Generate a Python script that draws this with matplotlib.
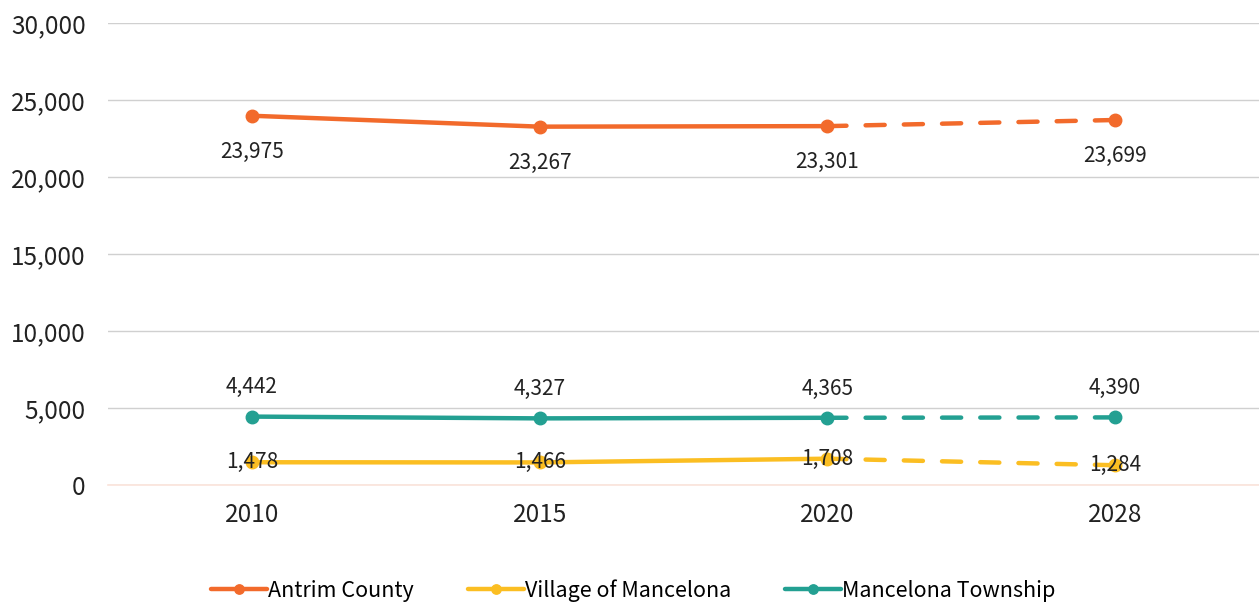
import matplotlib
matplotlib.use("Agg")
import matplotlib.pyplot as plt
from matplotlib.ticker import FuncFormatter, MultipleLocator

plt.rcParams['font.family'] = ['Noto Sans CJK KR', 'DejaVu Sans']

years = ['2010', '2015', '2020', '2028']
antrim = [23975, 23267, 23301, 23699]
village = [1478, 1466, 1708, 1284]
township = [4442, 4327, 4365, 4390]

names = ['Antrim County', 'Village of Mancelona', 'Mancelona Township']
colors = ['#F26A2B', '#FBBE22', '#23A092']
series = [antrim, village, township]
# label offset in points: below, centre, above
offsets = [-26, 0, 21]

fig = plt.figure(figsize=(12.59, 6.04), dpi=100)
ax = fig.add_axes([0.0858, 0.197, 0.9142, 0.765])

handles = []
for vals, name, col, off in zip(series, names, colors, offsets):
    h, = ax.plot(years[:3], vals[:3], color=col, lw=3.2, marker='o', ms=9,
                 solid_capstyle='round', label=name, zorder=3)
    ax.plot(years[2:], vals[2:], color=col, lw=3.2, ls=(0, (4.3, 4.3)),
            dash_capstyle='round', zorder=3)
    ax.plot(years[3:], vals[3:], color=col, marker='o', ms=9, ls='none', zorder=3)
    handles.append(h)
    for yr, v in zip(years, vals):
        ax.annotate(f'{v:,}', (yr, v), xytext=(0, off), textcoords='offset points',
                    ha='center', va='center', fontsize=15, color='#222222', zorder=4)

ax.set_xlim(-0.5, 3.5)
ax.set_ylim(0, 30000)
ax.yaxis.set_major_locator(MultipleLocator(5000))
ax.yaxis.set_major_formatter(FuncFormatter(lambda v, p: f'{int(v):,}'))
ax.grid(axis='y', color='#d0d0d0', lw=1)
ax.set_axisbelow(True)
for s in ['top', 'right', 'left']:
    ax.spines[s].set_visible(False)
ax.spines['bottom'].set_color('#FBE3DA')
ax.spines['bottom'].set_linewidth(1.2)
ax.tick_params(axis='both', length=0, labelsize=17.5, colors='#222222')
ax.tick_params(axis='x', pad=12)
ax.tick_params(axis='y', pad=16)

fig.legend(handles=handles, loc='center', bbox_to_anchor=(0.503, 0.022), ncol=3,
           frameon=False, fontsize=15.5, handlelength=2.6, handletextpad=0.05,
           columnspacing=2.5, markerscale=0.75)

fig.savefig('out.png', dpi=100)
